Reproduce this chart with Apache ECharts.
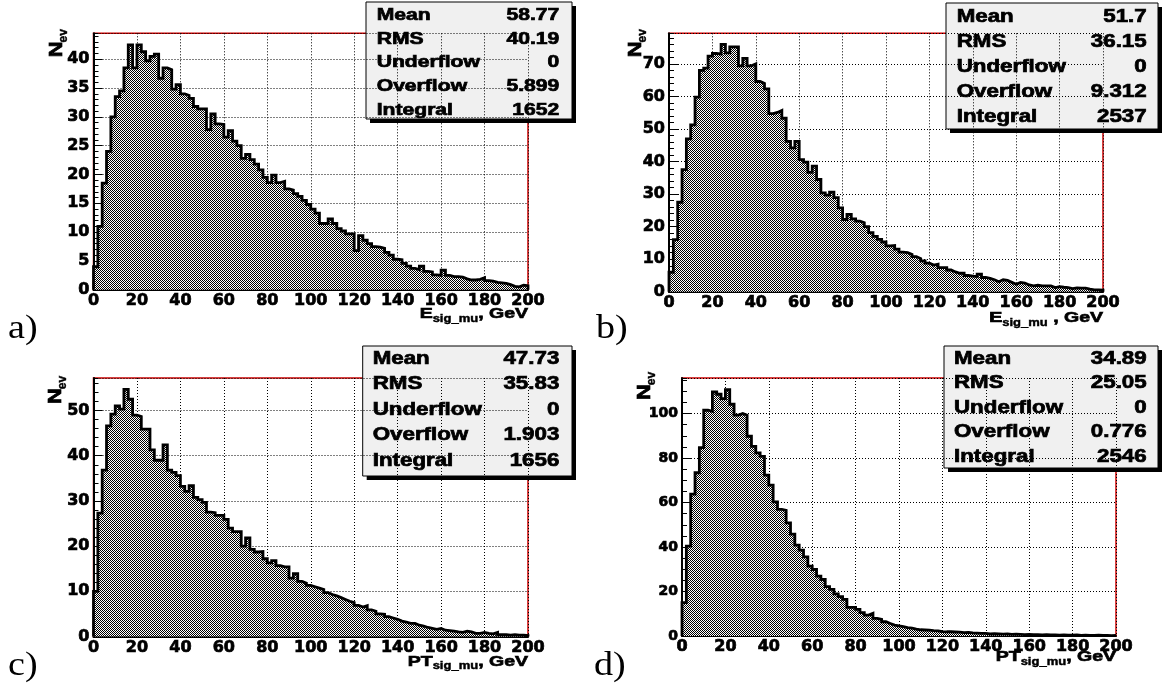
<!DOCTYPE html>
<html><head><meta charset="utf-8">
<script src="https://cdn.jsdelivr.net/npm/echarts@6/dist/echarts.min.js"></script>
<style>html,body{margin:0;padding:0;background:#fff}#c{width:1168px;height:692px}</style>
</head><body><div id="c"></div><script>
// ---------------- data ----------------
const binWidth = 2;
const xMin = 0, xMax = 200, xInterval = 20;

const valuesA = [4, 11, 18.5, 24, 30, 33.5, 34.5, 38.5, 42.5, 38.5, 42.5, 41.3, 39.7, 40.5, 40.9, 36.7, 38.5, 38.2, 34.8, 35.6,
  34, 33.7, 33.2, 31.8, 31.4, 31.4, 27.8, 30.5, 28.8, 28.7, 26.5, 27.6, 25.8, 25, 22.8, 23.5, 22.6, 21.8, 20.8, 19.5,
  18.6, 19.9, 18.6, 18.8, 17.5, 17.3, 16.7, 16.2, 15.5, 14.8, 14, 13.3, 11.5, 11.5, 12.3, 11.5, 10.6, 10.2, 9.7, 9.7,
  6.8, 9.4, 8.6, 8, 7.5, 7.4, 7.2, 6.5, 6, 5.3, 5.2, 4.6, 4.1, 3.7, 3.5, 4.1, 3.2, 3.1, 2.6, 2.5,
  3.4, 2.5, 2.3, 2.3, 2.2, 1.9, 1.7, 1.7, 1.8, 2.1, 1.6, 1.5, 1.3, 1.2, 1.1, 0.9, 0.6, 0.5, 0.8, 0.7];

const valuesB = [6, 16, 27.5, 37.5, 47, 51.3, 59.8, 68, 68.7, 72.4, 73.2, 73, 76, 73.4, 75.2, 75.2, 69.4, 71.7, 69.4, 70,
  64.6, 64, 62.3, 54.7, 55.1, 55.7, 53.3, 46.2, 44.2, 46.2, 40.6, 39.8, 36.7, 38.6, 34.5, 30.4, 29.7, 30.6, 28.9, 25.8,
  22.2, 23.8, 22.4, 21.7, 21.2, 20, 18.2, 17, 16.1, 15.3, 14.1, 14.2, 13.1, 12.2, 12, 11.5, 10.8, 10.2, 9.5, 8.8,
  8.2, 8.5, 7.4, 7.4, 6.7, 6.1, 5.7, 5.7, 5, 4.8, 4.7, 5.4, 4.4, 4.1, 3.7, 3.1, 3.7, 3.5, 2.9, 2.3,
  2.9, 2.7, 2.1, 1.8, 2, 1.8, 1.8, 1.8, 1.3, 1.6, 1.4, 1.3, 1, 1.2, 1.1, 1.1, 0.8, 0.6, 0.6, 0.5];

const valuesC = [10, 27.3, 36.8, 46.6, 49.2, 51, 50.3, 54.7, 52.5, 49, 48.7, 45.9, 45.9, 41.3, 39, 39, 42.4, 36.8, 36.3, 35.6,
  33.2, 32.1, 33.4, 30.8, 30.3, 29.7, 27.5, 27.4, 26.8, 26.8, 25.9, 24, 23.2, 23.2, 20, 21.8, 19.3, 18.7, 18.8, 17.2,
  16.3, 16.8, 15.7, 15.4, 15.4, 12.9, 13.9, 12.2, 11.8, 11.3, 11, 10.7, 10.4, 9.7, 9.3, 9, 8.6, 8.2, 7.8, 7.5,
  6.9, 6.5, 6.8, 5.9, 5.6, 5, 4.9, 4.4, 4.1, 3.8, 3.4, 3.2, 2.9, 2.9, 2.5, 2.3, 2, 1.8, 1.6, 1.8,
  1.4, 1.3, 1.2, 1, 0.9, 1.2, 1, 0.7, 0.7, 0.9, 0.7, 0.6, 0.9, 0.4, 0.4, 0.3, 0.4, 0.3, 0.3, 0.2];

const valuesD = [15, 40.4, 63.8, 73.4, 84.7, 101.5, 101, 109.7, 108.7, 106.7, 110.8, 104.2, 99.3, 100, 99.3, 89.8, 85.3, 82.3, 80.8, 72.3,
  67.8, 60.3, 56.9, 56.5, 50.9, 45.8, 40.9, 38.6, 35.6, 31.4, 29.9, 26.9, 25.4, 22.2, 21, 18.9, 17.7, 16.5, 12.9, 12.9,
  12, 10.5, 9.4, 10.2, 7.9, 7.5, 6.4, 5.6, 4.9, 4.5, 4.2, 3.8, 3.5, 3.1, 2.8, 2.7, 2.6, 2.4, 2.3, 2,
  1.9, 1.9, 1.8, 1.7, 1.5, 1.6, 1.4, 1.3, 1.2, 1.2, 0.9, 1, 0.9, 0.8, 0.9, 0.7, 0.8, 0.7, 0.6, 0.7,
  0.6, 0.6, 0.5, 0.6, 0.5, 0.5, 0.4, 0.5, 0.4, 0.4, 0.5, 0.3, 0.4, 0.3, 0.3, 0.4, 0.3, 0.3, 0.2, 0.3];

const yMaxes = [44.5, 79.4, 57.2, 116];
const yIntervals = [5, 10, 10, 20];
const yMinorIntervals = [1, 2, 2, 5];

const statLabels = ['Mean', 'RMS', 'Underflow', 'Overflow', 'Integral'];
const statsA = ['58.77', '40.19', '0', '5.899', '1652'];
const statsB = ['51.7', '36.15', '0', '9.312', '2537'];
const statsC = ['47.73', '35.83', '0', '1.903', '1656'];
const statsD = ['34.89', '25.05', '0', '0.776', '2546'];

const panelLetters = ['a)', 'b)', 'c)', 'd)'];
const xTitleMain = ['E', 'E', 'PT', 'PT'];
const xTitleSub = 'sig_mu';
const xTitleTail = [', GeV', ' , GeV', ', GeV', ', GeV'];
const yTitleMain = 'N', yTitleSub = 'ev';

// ---------------- layout ----------------
const allValues = [valuesA, valuesB, valuesC, valuesD];
const allStats = [statsA, statsB, statsC, statsD];
const panels = [
  {left: 93.5, top: 33.3, width: 434.5, height: 256.5, ySize: 16, yT: [-37, 24], xTdy: 24,
   box: {x: 366, y: 2, w: 206, h: 117, rows: [15, 39, 62.7, 86.3, 110], lx: 376.7, vx: 559.3, fs: 16.5, sx: 1.28},
   letter: [8, 329]},
  {left: 669, top: 33.3, width: 434, height: 258.5, ySize: 16, yT: [-33, 24], xTdy: 26,
   box: {x: 946, y: 3, w: 212, h: 126, rows: [16.7, 41.7, 66.7, 91.7, 116.7], lx: 956.7, vx: 1146.7, fs: 18, sx: 1.24},
   letter: [596, 329]},
  {left: 93.5, top: 378, width: 434.5, height: 258.5, ySize: 16, yT: [-38, 26], xTdy: 25,
   box: {x: 362.7, y: 346, w: 209.3, h: 130, rows: [359.5, 384.5, 410, 435.5, 461], lx: 372.7, vx: 559.3, fs: 18, sx: 1.24},
   letter: [8, 666]},
  {left: 682, top: 378, width: 434, height: 258, ySize: 14, yT: [-37, 22], xTdy: 21,
   box: {x: 944, y: 346, w: 214, h: 122, rows: [359.3, 383.5, 408, 432.5, 456.7], lx: 954, vx: 1146.7, fs: 18, sx: 1.24},
   letter: [594, 666]}
];

// checker fill pattern (ROOT hatch style)
const pat = document.createElement('canvas');
pat.width = 2; pat.height = 2;
const pctx = pat.getContext('2d');
pctx.fillStyle = '#ffffff'; pctx.fillRect(0, 0, 2, 2);
pctx.fillStyle = '#000000'; pctx.fillRect(0, 0, 1, 1); pctx.fillRect(1, 1, 1, 1);

const mctx = document.createElement('canvas').getContext('2d');
function tw(text, font) { mctx.font = font; return mctx.measureText(text).width; }

function histPoints(vals) {
  const pts = [[xMin, 0]];
  vals.forEach((v, i) => pts.push([xMin + i * binWidth, v]));
  pts.push([xMin + vals.length * binWidth, vals[vals.length - 1]]);
  pts.push([xMin + vals.length * binWidth, 0]);
  return pts;
}

const grids = [], xAxes = [], yAxes = [], series = [], graphics = [];
const tickFont = {color: '#000', fontFamily: 'DejaVu Sans', fontWeight: 'bold', textBorderColor: '#000', textBorderWidth: 0.7};
const dotted = {color: '#000', width: 1, type: [1, 2]};
const heavy = {stroke: '#000', lineWidth: 0.7};

panels.forEach((p, i) => {
  grids.push({left: p.left, top: p.top, width: p.width, height: p.height, show: true,
    borderColor: '#cc0000', borderWidth: 1.5, backgroundColor: '#fff', containLabel: false, outerBoundsMode: 'none'});
  xAxes.push({gridIndex: i, type: 'value', min: xMin, max: xMax, interval: xInterval,
    axisLine: {show: true, onZero: false, lineStyle: {color: '#000', width: 2}},
    axisTick: {show: false},
    splitLine: {show: true, lineStyle: dotted},
    axisLabel: Object.assign({fontSize: 16, margin: 3}, tickFont)});
  yAxes.push({gridIndex: i, type: 'value', min: 0, max: yMaxes[i], interval: yIntervals[i],
    axisLine: {show: true, onZero: false, lineStyle: {color: '#000', width: 2}},
    axisTick: {show: true, inside: true, length: 9, lineStyle: {color: '#000', width: 1}},
    splitLine: {show: true, lineStyle: dotted},
    axisLabel: Object.assign({fontSize: p.ySize, margin: 4, showMaxLabel: false}, tickFont)});
  series.push({type: 'line', xAxisIndex: i, yAxisIndex: i, step: 'end', symbol: 'none',
    data: histPoints(allValues[i]), animation: false, z: 3,
    lineStyle: {color: '#000', width: 2.8, join: 'miter'},
    areaStyle: {color: {image: pat, repeat: 'repeat'}, opacity: 1}});

  // stats box
  const b = p.box;
  const boxChildren = [
    {type: 'rect', shape: {x: b.x + 4, y: b.y + 4, width: b.w, height: b.h}, style: {fill: '#000'}},
    {type: 'rect', shape: {x: b.x, y: b.y, width: b.w, height: b.h}, style: {fill: '#f0f0f0', stroke: '#000', lineWidth: 1}}
  ];
  const bf = 'bold ' + b.fs + 'px "Liberation Sans"';
  statLabels.forEach((lab, r) => {
    boxChildren.push({type: 'text', x: b.lx, y: b.rows[r], scaleX: b.sx,
      style: Object.assign({text: lab, font: bf, fill: '#000', align: 'left', verticalAlign: 'middle'}, heavy)});
    boxChildren.push({type: 'text', x: b.vx, y: b.rows[r], scaleX: b.sx,
      style: Object.assign({text: allStats[i][r], font: bf, fill: '#000', align: 'right', verticalAlign: 'middle'}, heavy)});
  });
  graphics.push({type: 'group', z: 100, children: boxChildren});

  // panel letter
  graphics.push({type: 'text', x: p.letter[0], y: p.letter[1], scaleX: 1.12, z: 100,
    style: {text: panelLetters[i], font: '34px "Liberation Serif"', fill: '#000', align: 'left', verticalAlign: 'middle'}});

  // x axis title (right aligned at plot end)
  const R = p.left + p.width;
  const ty = p.top + p.height + p.xTdy;
  const sxT = 1.3;
  const mf = 'bold 15px "Liberation Sans"', sf = 'bold 10px "Liberation Sans"';
  const wTail = tw(xTitleTail[i], mf) * sxT, wSub = tw(xTitleSub, sf) * sxT;
  graphics.push({type: 'group', z: 100, children: [
    {type: 'text', x: R, y: ty, scaleX: sxT, style: Object.assign({text: xTitleTail[i], font: mf, fill: '#000', align: 'right', verticalAlign: 'middle'}, heavy)},
    {type: 'text', x: R - wTail, y: ty + 5, scaleX: sxT, style: Object.assign({text: xTitleSub, font: sf, fill: '#000', align: 'right', verticalAlign: 'middle'}, {stroke: '#000', lineWidth: 0.4})},
    {type: 'text', x: R - wTail - wSub, y: ty, scaleX: sxT, style: Object.assign({text: xTitleMain[i], font: mf, fill: '#000', align: 'right', verticalAlign: 'middle'}, heavy)}
  ]});

  // y axis title, rotated
  const nf = 'bold 19px "Liberation Sans"', ef = 'bold 12px "Liberation Sans"';
  const wN = tw(yTitleMain, nf) * 1.15;
  graphics.push({type: 'group', z: 100, x: p.left + p.yT[0], y: p.top + p.yT[1], rotation: Math.PI / 2, children: [
    {type: 'text', x: 0, y: 0, scaleX: 1.15, style: Object.assign({text: yTitleMain, font: nf, fill: '#000', align: 'left', verticalAlign: 'middle'}, heavy)},
    {type: 'text', x: wN - 1, y: 7, style: Object.assign({text: yTitleSub, font: ef, fill: '#000', align: 'left', verticalAlign: 'middle'}, {stroke: '#000', lineWidth: 0.4})}
  ]});
});

// minor tick axes
panels.forEach((p, i) => {
  yAxes.push({gridIndex: i, type: 'value', position: 'left', offset: 0, min: 0, max: yMaxes[i], interval: yMinorIntervals[i],
    axisLine: {show: false}, axisLabel: {show: false}, splitLine: {show: false},
    axisTick: {show: true, inside: true, length: 5, lineStyle: {color: '#000', width: 1}}});
});

const chart = echarts.init(document.getElementById('c'), null, {renderer: 'canvas', width: 1168, height: 692});
chart.setOption({
  animation: false,
  backgroundColor: '#fff',
  grid: grids, xAxis: xAxes, yAxis: yAxes, series: series, graphic: graphics
});
</script></body></html>
